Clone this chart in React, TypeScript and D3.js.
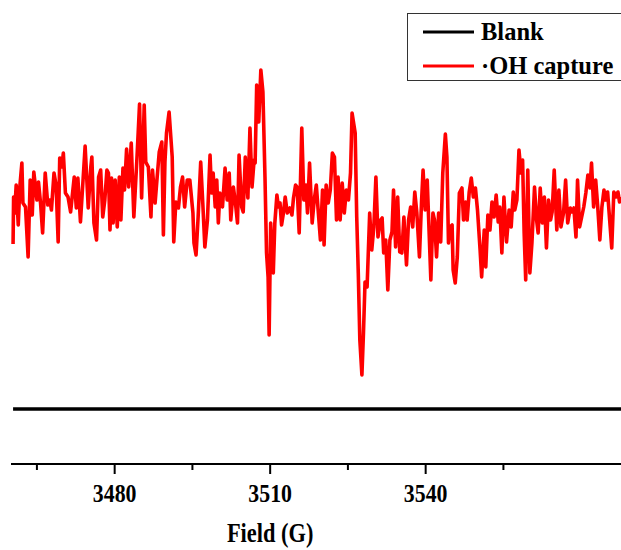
import React from "react";
import * as d3 from "d3";

const ohField: number[] = [
  3460.4, 3460.5, 3460.7, 3461.0, 3461.4, 3461.7, 3462.1, 3462.3, 3462.8, 3463.3,
  3463.7, 3464.1, 3464.4, 3465.0, 3465.3, 3465.7, 3466.1, 3466.6, 3467.1, 3467.5,
  3467.8, 3468.3, 3468.7, 3469.1, 3469.4, 3469.8, 3470.1, 3470.5, 3471.0, 3471.5,
  3472.2, 3472.6, 3472.9, 3473.4, 3473.9, 3474.3, 3474.9, 3475.4, 3475.6, 3476.0,
  3476.5, 3476.9, 3477.3, 3477.7, 3478.1, 3478.5, 3478.8, 3479.1, 3479.4, 3479.7,
  3480.1, 3480.5, 3480.9, 3481.2, 3481.6, 3481.9, 3482.3, 3482.7, 3483.2, 3483.7,
  3484.3, 3484.8, 3485.2, 3485.7, 3486.0, 3486.5, 3487.0, 3487.3, 3487.8, 3488.2,
  3488.6, 3489.1, 3489.4, 3489.7, 3490.0, 3490.5, 3491.1, 3491.4, 3491.8, 3492.3,
  3492.7, 3493.1, 3493.5, 3494.0, 3494.5, 3495.1, 3495.3, 3495.7, 3496.1, 3496.6,
  3497.0, 3497.4, 3497.9, 3498.4, 3498.7, 3499.0, 3499.4, 3499.7, 3500.0, 3500.3,
  3500.8, 3501.3, 3501.7, 3502.1, 3502.4, 3502.9, 3503.3, 3503.7, 3504.0, 3504.5,
  3504.8, 3505.2, 3505.7, 3506.1, 3506.5, 3506.9, 3507.1, 3507.4, 3507.8, 3508.2,
  3508.6, 3509.0, 3509.3, 3509.6, 3509.8, 3510.1, 3510.3, 3510.6, 3510.9, 3511.3,
  3511.6, 3511.9, 3512.2, 3512.5, 3512.9, 3513.3, 3513.8, 3514.2, 3514.5, 3514.9,
  3515.2, 3515.6, 3516.1, 3516.5, 3516.9, 3517.2, 3517.6, 3518.1, 3518.5, 3518.9,
  3519.3, 3519.7, 3520.1, 3520.4, 3520.8, 3521.2, 3521.6, 3522.0, 3522.4, 3522.8,
  3523.1, 3523.5, 3523.9, 3524.3, 3524.7, 3525.1, 3525.5, 3525.8, 3526.4, 3526.7,
  3527.0, 3527.3, 3527.7, 3528.0, 3528.3, 3528.7, 3529.2, 3529.6, 3530.0, 3530.4,
  3530.8, 3531.3, 3531.6, 3531.9, 3532.3, 3532.7, 3533.1, 3533.5, 3533.8, 3534.2,
  3534.6, 3535.0, 3535.4, 3535.8, 3536.3, 3536.7, 3537.1, 3537.5, 3537.9, 3538.3,
  3538.8, 3539.2, 3539.5, 3539.9, 3540.3, 3541.0, 3541.4, 3541.7, 3542.1, 3542.5,
  3542.9, 3543.3, 3543.8, 3544.1, 3544.4, 3544.7, 3545.1, 3545.3, 3545.7, 3546.1,
  3546.5, 3547.0, 3547.3, 3547.7, 3548.0, 3548.4, 3548.8, 3549.2, 3549.6, 3550.0,
  3550.5, 3550.8, 3551.3, 3551.6, 3552.0, 3552.4, 3552.8, 3553.2, 3553.6, 3554.0,
  3554.3, 3554.7, 3555.1, 3555.6, 3556.1, 3556.5, 3556.9, 3557.2, 3557.6, 3558.0,
  3558.4, 3558.7, 3559.0, 3559.3, 3559.7, 3560.1, 3560.5, 3561.0, 3561.4, 3561.7,
  3562.1, 3562.5, 3562.9, 3563.3, 3563.7, 3564.1, 3564.4, 3564.8, 3565.3, 3565.7,
  3566.1, 3566.6, 3567.0, 3567.4, 3567.9, 3568.2, 3568.6, 3569.0, 3569.3, 3569.7,
  3570.1, 3570.5, 3570.9, 3571.3, 3571.7, 3572.0, 3572.4, 3572.8, 3573.2, 3573.6,
  3574.0, 3574.4, 3574.7, 3575.1, 3575.5, 3575.9, 3576.3, 3576.7, 3577.1, 3577.4,
  3577.7,
];

const ohSignal: number[] = [
  165, 212, 196, 224, 184, 222, 246, 206, 202, 152,
  229, 194, 237, 209, 227, 206, 176, 236, 204, 209,
  199, 236, 224, 167, 251, 242, 256, 216, 212, 197,
  232, 201, 231, 187, 229, 263, 201, 242, 252, 186,
  169, 232, 239, 192, 209, 239, 236, 179, 231, 186,
  229, 182, 232, 189, 241, 219, 260, 222, 266, 192,
  251, 305, 211, 304, 247, 242, 192, 239, 206, 232,
  257, 267, 174, 247, 276, 297, 252, 167, 207, 201,
  222, 232, 202, 229, 229, 196, 166, 154, 192, 247,
  206, 162, 189, 254, 216, 236, 202, 229, 186, 216,
  202, 241, 209, 236, 189, 222, 206, 186, 254, 202,
  197, 252, 211, 281, 222, 249, 246, 324, 287, 339,
  317, 232, 156, 132, 74, 186, 162, 136, 186, 214,
  202, 206, 184, 194, 212, 196, 201, 194, 211, 224,
  222, 176, 281, 209, 224, 196, 246, 186, 209, 224,
  196, 169, 219, 164, 224, 206, 219, 256, 252, 189,
  232, 189, 226, 196, 219, 209, 236, 296, 276, 192,
  136, 69, 34, 76, 127, 122, 196, 159, 182, 232,
  172, 189, 191, 156, 169, 119, 169, 177, 219, 162,
  212, 157, 156, 192, 144, 189, 202, 182, 217, 196,
  152, 207, 239, 199, 229, 129, 196, 189, 152, 196,
  167, 236, 275, 252, 166, 182, 184, 139, 126, 152,
  216, 221, 189, 207, 189, 217, 231, 212, 221, 199,
  159, 132, 179, 142, 194, 179, 207, 192, 214, 187,
  202, 156, 212, 167, 199, 182, 217, 199, 209, 259,
  236, 249, 176, 129, 239, 136, 166, 222, 189, 176,
  221, 186, 212, 161, 209, 189, 197, 239, 179, 219,
  182, 196, 229, 186, 201, 197, 201, 172, 229, 182,
  192, 202, 216, 234, 221, 246, 202, 229, 202, 169,
  202, 219, 209, 217, 189, 161, 217, 212, 217, 207,
  212,
];

const blankField: number[] = [3460.4, 3580];
const blankSignal: number[] = [0, 0];

const majorTicks: number[] = [3480, 3510, 3540];
const minorTicks: number[] = [3465, 3495, 3525, 3555];
const xTitle = "Field (G)";
const seriesNames: string[] = ["Blank", "\u00B7OH capture"];
const seriesColors: string[] = ["#000000", "#ff0000"];

const W = 621;
const H = 550;
const FONT = "'Liberation Serif', 'Times New Roman', serif";

export default function App() {
  const x = d3.scaleLinear().domain([3460, 3580]).range([11, 633]);
  const y = d3.scaleLinear().domain([0, 400]).range([409, 9]);
  const axisY = 464;

  const line = d3
    .line<[number, number]>()
    .x((d) => x(d[0]))
    .y((d) => y(d[1]));

  const ohPts: [number, number][] = ohField.map((f, i) => [f, ohSignal[i]]);
  const blankPts: [number, number][] = blankField.map((f, i) => [f, blankSignal[i]]);

  return (
    <svg
      width={W}
      height={H}
      style={{ position: "absolute", left: 0, top: 0, display: "block", background: "#fff" }}
    >
      <rect x={0} y={0} width={W} height={H} fill="#fff" />
      <path d={line(blankPts) || ""} fill="none" stroke={seriesColors[0]} strokeWidth={3.3} />
      <path
        d={line(ohPts) || ""}
        fill="none"
        stroke={seriesColors[1]}
        strokeWidth={3.6}
        strokeLinejoin="round"
      />

      {/* x axis */}
      <line x1={x(3460)} x2={W} y1={axisY} y2={axisY} stroke="#000" strokeWidth={2.2} />
      {majorTicks.map((t) => (
        <line key={"M" + t} x1={x(t)} x2={x(t)} y1={axisY} y2={axisY + 10} stroke="#000" strokeWidth={2} />
      ))}
      {minorTicks.map((t) => (
        <line key={"m" + t} x1={x(t)} x2={x(t)} y1={axisY} y2={axisY + 6} stroke="#000" strokeWidth={2} />
      ))}
      {majorTicks.map((t) => (
        <text
          key={"L" + t}
          transform={`translate(${x(t)},${502}) scale(0.84,1)`}
          textAnchor="middle"
          fontFamily={FONT}
          fontWeight="bold"
          fontSize={26}
          fill="#000"
        >
          {t}
        </text>
      ))}
      <text
        transform={`translate(${x(3510)},${542}) scale(0.8,1)`}
        textAnchor="middle"
        fontFamily={FONT}
        fontWeight="bold"
        fontSize={28}
        fill="#000"
      >
        {xTitle}
      </text>

      {/* legend */}
      <rect x={407.5} y={13.5} width={220} height={67} fill="#fff" stroke="#333" strokeWidth={1} />
      {seriesNames.map((name, i) => (
        <g key={name}>
          <line
            x1={423}
            x2={474}
            y1={32 + i * 34}
            y2={32 + i * 34}
            stroke={seriesColors[i]}
            strokeWidth={3}
          />
          <text
            x={481}
            y={32 + i * 34 + 8}
            fontFamily={FONT}
            fontWeight="bold"
            fontSize={24.5}
            fill="#000"
          >
            {name}
          </text>
        </g>
      ))}
    </svg>
  );
}
